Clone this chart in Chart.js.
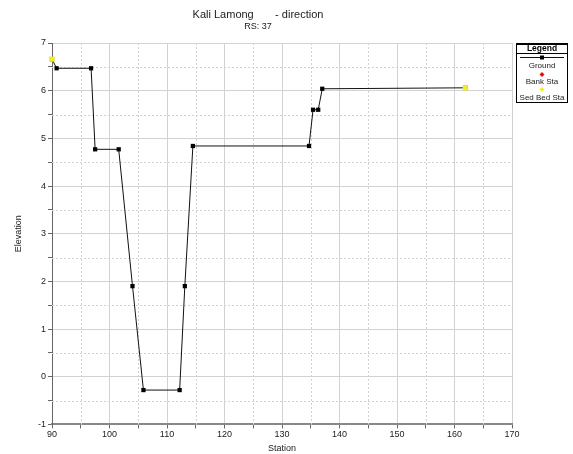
<!DOCTYPE html>
<html>
<head>
<meta charset="utf-8">
<script src="https://cdn.jsdelivr.net/npm/chart.js@4.4.1/dist/chart.umd.min.js"></script>
<style>
html,body{margin:0;padding:0;background:#fff;}
#wrap{position:relative;width:573px;height:454px;}
</style>
</head>
<body>
<div id="wrap"><canvas id="c" width="573" height="454"></canvas></div>
<script>
// ---- data ----
const titleText = "Kali Lamong       - direction";
const subtitleText = "RS: 37";
const xTitle = "Station";
const yTitle = "Elevation";
const groundStation = [90, 90.8, 96.8, 97.5, 101.6, 104.0, 105.9, 112.2, 113.1, 114.5, 134.7, 135.4, 136.3, 137.0, 161.9];
const groundElev    = [6.66, 6.47, 6.47, 4.77, 4.77, 1.9, -0.28, -0.28, 1.9, 4.84, 4.84, 5.6, 5.6, 6.04, 6.06];
const bankStation = [];
const bankElev = [];
const sedStation = [90, 161.9];
const sedElev    = [6.66, 6.06];
const xRange = [90, 170];
const yRange = [-1, 7];

const toPts = (xs, ys) => xs.map((x, i) => ({x: x, y: ys[i]}));

const FONT = "'Liberation Sans', Arial, sans-serif";

const minorGrid = {
  id: 'minorGrid',
  beforeDatasetsDraw(chart) {
    const {ctx, chartArea: a, scales: {x, y}} = chart;
    ctx.save();
    ctx.strokeStyle = '#d2d2d2';
    ctx.lineWidth = 1;
    ctx.setLineDash([2, 2]);
    for (let v = xRange[0] + 5; v < xRange[1]; v += 10) {
      const px = Math.round(x.getPixelForValue(v)) + 0.5;
      ctx.beginPath(); ctx.moveTo(px, a.top); ctx.lineTo(px, a.bottom); ctx.stroke();
    }
    for (let v = yRange[0] + 0.5; v < yRange[1]; v += 1) {
      const py = Math.round(y.getPixelForValue(v)) + 0.5;
      ctx.beginPath(); ctx.moveTo(a.left, py); ctx.lineTo(a.right, py); ctx.stroke();
    }
    ctx.restore();
  }
};

const boxLegend = {
  id: 'boxLegend',
  afterDraw(chart) {
    const ctx = chart.ctx;
    const L = 516, T = 43, R = 568, B = 103, cx = (L + R) / 2;
    ctx.save();
    ctx.fillStyle = '#fff';
    ctx.fillRect(L, T, R - L, B - T);
    ctx.strokeStyle = '#000';
    ctx.lineWidth = 1;
    ctx.strokeRect(L + 0.5, T + 0.5, R - L - 1, B - T - 1);
    ctx.beginPath(); ctx.moveTo(L, T + 1.5); ctx.lineTo(R, T + 1.5); ctx.stroke();
    ctx.beginPath(); ctx.moveTo(L, 53.5); ctx.lineTo(R, 53.5); ctx.stroke();
    ctx.fillStyle = '#000';
    ctx.textAlign = 'center';
    ctx.textBaseline = 'middle';
    ctx.font = "bold 8.5px " + FONT;
    ctx.fillText('Legend', cx, 48.5);
    const ds = chart.data.datasets;
    // Ground
    ctx.strokeStyle = ds[0].borderColor;
    ctx.beginPath(); ctx.moveTo(L + 4, 57.5); ctx.lineTo(R - 4, 57.5); ctx.stroke();
    ctx.fillStyle = ds[0].pointBackgroundColor;
    ctx.fillRect(cx - 2, 55.5, 4, 4);
    ctx.font = "8px " + FONT;
    ctx.fillStyle = '#222';
    ctx.fillText(ds[0].label, cx, 66);
    // Bank Sta
    ctx.fillStyle = ds[1].pointBackgroundColor;
    ctx.beginPath(); ctx.moveTo(cx, 72); ctx.lineTo(cx + 2.5, 74.5); ctx.lineTo(cx, 77); ctx.lineTo(cx - 2.5, 74.5); ctx.closePath(); ctx.fill();
    ctx.fillStyle = '#222';
    ctx.fillText(ds[1].label, cx, 82);
    // Sed Bed Sta
    ctx.fillStyle = ds[2].pointBackgroundColor;
    ctx.beginPath(); ctx.moveTo(cx, 87); ctx.lineTo(cx + 2.5, 89.5); ctx.lineTo(cx, 92); ctx.lineTo(cx - 2.5, 89.5); ctx.closePath(); ctx.fill();
    ctx.fillStyle = '#222';
    ctx.fillText(ds[2].label, cx, 97.5);
    ctx.restore();
  }
};

new Chart(document.getElementById('c'), {
  type: 'scatter',
  data: {
    datasets: [
      {label: 'Ground', data: toPts(groundStation, groundElev), showLine: true, clip: false,
       borderColor: '#111', borderWidth: 1, pointStyle: 'rect', pointRadius: 3,
       pointBackgroundColor: '#000', pointBorderColor: '#000', pointBorderWidth: 0, order: 2},
      {label: 'Bank Sta', data: toPts(bankStation, bankElev), showLine: false, clip: false,
       pointStyle: 'rectRot', pointRadius: 3, pointBackgroundColor: '#e01010', pointBorderColor: '#e01010', order: 1},
      {label: 'Sed Bed Sta', data: toPts(sedStation, sedElev), showLine: false, clip: false,
       pointStyle: 'rect', pointRadius: 3.4, pointBackgroundColor: '#f2ee2a', pointBorderColor: '#e8e040', pointBorderWidth: 0.5, order: 0}
    ]
  },
  options: {
    responsive: false,
    animation: false,
    layout: {padding: {left: 4, right: 61, top: 0, bottom: 0}},
    plugins: {
      legend: {display: false},
      tooltip: {enabled: false},
      title: {display: true, text: titleText, color: '#222', font: {family: FONT, size: 11, weight: 'normal'}, padding: {top: 8, bottom: 0}},
      subtitle: {display: true, text: subtitleText, color: '#222', font: {family: FONT, size: 9}, padding: {top: 0, bottom: 11}}
    },
    scales: {
      x: {
        type: 'linear', min: xRange[0], max: xRange[1],
        title: {display: true, text: xTitle, color: '#222', font: {family: FONT, size: 9}, padding: {top: 2, bottom: 0}},
        ticks: {stepSize: 5, autoSkip: false, maxRotation: 0, color: '#222', font: {family: FONT, size: 9}, padding: 1,
                callback: v => (v % 10 === 0 ? String(v) : '')},
        grid: {color: c => (c.tick && c.tick.value % 10 === 0 ? '#d2d2d2' : 'rgba(0,0,0,0)'),
               tickColor: '#666', tickLength: 4, lineWidth: 1},
        border: {color: '#888', width: 2}
      },
      y: {
        type: 'linear', min: yRange[0], max: yRange[1],
        title: {display: true, text: yTitle, color: '#222', font: {family: FONT, size: 9}, padding: {top: 9, bottom: 10}},
        ticks: {stepSize: 0.5, autoSkip: false, color: '#222', font: {family: FONT, size: 9}, padding: 2,
                callback: v => (Number.isInteger(v) ? String(v) : '')},
        grid: {color: c => (c.tick && Number.isInteger(c.tick.value) ? '#d2d2d2' : 'rgba(0,0,0,0)'),
               tickColor: '#666', tickLength: 4, lineWidth: 1},
        border: {color: '#666', width: 1},
        afterFit: s => { s.width = 48; }
      }
    }
  },
  plugins: [minorGrid, boxLegend]
});
</script>
</body>
</html>
